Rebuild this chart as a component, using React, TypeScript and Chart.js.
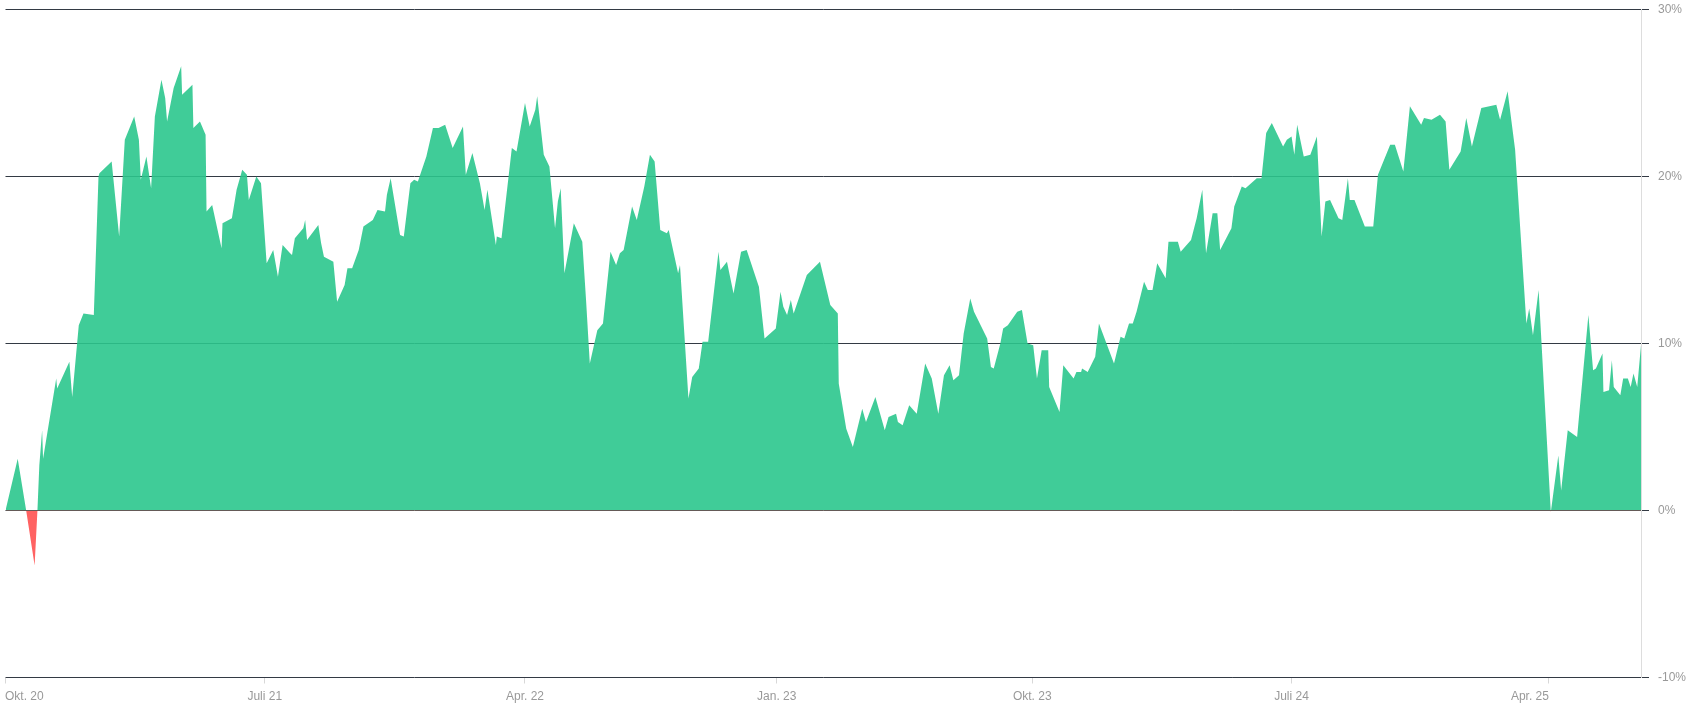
import React, { useEffect, useRef } from "react";
import { Chart, registerables } from "chart.js";

Chart.register(...registerables);

// Days since 1 Oct 2020 for each observation
const dayOffsets: number[] = [
  0, 13, 22, 31, 34, 36, 39, 40, 54, 55, 68, 71, 78, 83, 94, 99, 100, 113, 121, 127,
  137, 142, 144, 150, 155, 159, 166, 170, 172, 179, 187, 188, 199, 200, 207, 213, 214, 220, 230, 231,
  241, 246, 252, 257, 259, 267, 272, 278, 285, 290, 295, 303, 305, 308, 317, 319, 321, 333, 336, 339,
  349, 353, 361, 364, 369, 376, 381, 391, 396, 404, 406, 410, 420, 424, 431, 435, 439, 448, 455, 461,
  468, 476, 487, 490, 497, 505, 510, 513, 522, 523, 528, 539, 544, 553, 558, 564, 566, 573, 579, 585,
  588, 591, 595, 605, 614, 618, 622, 630, 636, 644, 650, 654, 658, 667, 672, 680, 686, 691, 697, 704,
  706, 716, 718, 727, 731, 738, 742, 748, 759, 761, 768, 775, 783, 789, 802, 808, 820, 825, 828, 832,
  836, 839, 853, 867, 878, 886, 887, 895, 902, 912, 916, 926, 933, 936, 940, 948, 950, 955, 962, 970,
  979, 986, 993, 999, 1005, 1009, 1015, 1020, 1027, 1031, 1045, 1049, 1052, 1059, 1062, 1067, 1077, 1082, 1088, 1094,
  1098, 1103, 1110, 1111, 1122, 1126, 1137, 1140, 1145, 1146, 1152, 1160, 1164, 1180, 1187, 1191, 1196, 1200, 1204, 1212,
  1216, 1221, 1226, 1235, 1238, 1248, 1251, 1262, 1268, 1274, 1278, 1285, 1290, 1293, 1305, 1308, 1316, 1320, 1332, 1337,
  1342, 1348, 1360, 1364, 1369, 1372, 1375, 1382, 1389, 1396, 1401, 1405, 1410, 1419, 1423, 1429, 1431, 1436, 1447, 1456,
  1461, 1474, 1479, 1488, 1495, 1507, 1510, 1518, 1527, 1533, 1537, 1549, 1555, 1561, 1571, 1587, 1591, 1599, 1607, 1619,
  1622, 1626, 1632, 1645, 1653, 1656, 1663, 1673, 1685, 1690, 1693, 1700, 1701, 1707, 1710, 1712, 1719, 1722, 1727, 1730,
  1733, 1737, 1741,
];

// Performance in percent
const returnPct: number[] = [
  0, 3.1, 0, -3.3, 0, 2.7, 4.8, 3.1, 7.9, 7.3, 8.9, 6.8, 11.1, 11.8, 11.7, 20.0, 20.2, 20.9, 16.4, 22.2,
  23.6, 22.2, 19.8, 21.2, 19.3, 23.6, 25.8, 24.7, 23.3, 25.3, 26.6, 24.9, 25.5, 22.9, 23.3, 22.5, 17.9, 18.3, 15.7, 17.2,
  17.5, 19.2, 20.4, 20.1, 18.6, 20.0, 19.6, 14.8, 15.6, 14.0, 15.9, 15.4, 15.3, 16.3, 16.9, 17.4, 16.2, 17.1, 16.0, 15.2,
  14.9, 12.5, 13.5, 14.5, 14.5, 15.6, 17.0, 17.4, 18.0, 17.9, 18.9, 19.9, 16.5, 16.4, 19.6, 19.8, 19.7, 21.2, 22.9, 22.9,
  23.1, 21.7, 23.0, 20.1, 21.4, 19.6, 18.0, 19.2, 15.9, 16.4, 16.3, 21.7, 21.5, 24.4, 23.0, 24.0, 24.8, 21.3, 20.6, 16.9,
  18.5, 19.3, 14.2, 17.2, 16.1, 12.6, 8.8, 10.8, 11.2, 15.5, 14.7, 15.4, 15.6, 18.2, 17.4, 19.4, 21.3, 20.9, 16.8, 16.6,
  16.8, 14.2, 14.7, 6.7, 8.0, 8.5, 10.1, 10.1, 15.5, 14.4, 14.9, 13.0, 15.5, 15.6, 13.4, 10.3, 10.9, 13.1, 12.2, 11.7,
  12.6, 11.8, 14.1, 14.9, 12.3, 11.8, 7.6, 4.9, 3.8, 6.1, 5.3, 6.8, 5.4, 4.8, 5.6, 5.8, 5.3, 5.1, 6.3, 5.8,
  8.8, 7.9, 5.8, 8.1, 8.7, 7.8, 8.1, 10.6, 12.7, 11.9, 10.3, 8.6, 8.5, 10.0, 10.9, 11.1, 11.9, 12.0, 10.0, 9.9,
  7.9, 9.6, 9.6, 7.4, 5.9, 8.7, 7.9, 8.3, 8.3, 8.5, 8.3, 9.2, 11.2, 8.8, 10.4, 10.3, 11.2, 11.2, 11.9, 13.7,
  13.2, 13.2, 14.8, 13.9, 16.1, 16.1, 15.5, 16.2, 17.5, 19.2, 15.4, 17.8, 17.8, 15.6, 16.9, 18.2, 19.4, 19.3, 19.9, 19.9,
  22.6, 23.2, 21.8, 22.2, 22.4, 21.3, 23.1, 21.2, 21.3, 22.4, 16.4, 18.5, 18.6, 17.5, 17.4, 19.9, 18.6, 18.6, 17.0, 17.0,
  20.1, 21.9, 21.9, 20.3, 24.2, 23.1, 23.5, 23.4, 23.7, 23.3, 20.4, 21.5, 23.5, 21.8, 24.1, 24.3, 23.4, 25.1, 21.6, 11.2,
  12.1, 10.5, 13.2, -0.1, 3.3, 1.2, 4.8, 4.4, 11.7, 8.4, 8.5, 9.4, 7.1, 7.2, 9.0, 7.4, 6.9, 7.9, 7.9, 7.4,
  8.2, 7.4, 9.9,
];

const tickDays: number[] = [0, 276, 553, 821, 1093, 1369, 1643];
const tickLabels: string[] = ["Okt. 20", "Juli 21", "Apr. 22", "Jan. 23", "Okt. 23", "Juli 24", "Apr. 25"];

const FONT = "'Liberation Sans', Arial, sans-serif";

export default function App() {
  const canvasRef = useRef<HTMLCanvasElement | null>(null);

  useEffect(() => {
    const canvas = canvasRef.current;
    if (!canvas) return;

    const xLabelPlugin = {
      id: "xLabels",
      afterDraw(chart: any) {
        const ctx = chart.ctx;
        const xs = chart.scales.x;
        ctx.save();
        ctx.font = `12px ${FONT}`;
        ctx.fillStyle = "#999999";
        ctx.textBaseline = "alphabetic";
        tickDays.forEach((d, i) => {
          const px = xs.getPixelForValue(d);
          ctx.textAlign = i === 0 ? "left" : i === tickDays.length - 1 ? "right" : "center";
          ctx.fillText(tickLabels[i], i === 0 ? px - 0.5 : px, 700);
        });
        ctx.restore();
      },
    };

    const chart = new Chart(canvas, {
      type: "line",
      data: {
        datasets: [
          {
            data: dayOffsets.map((d, i) => ({ x: d, y: returnPct[i] })),
            borderWidth: 0,
            borderColor: "rgba(0,0,0,0)",
            pointRadius: 0,
            tension: 0,
            fill: {
              target: "origin",
              above: "rgba(43,199,141,0.9)",
              below: "rgba(255,98,98,1)",
            },
          },
        ],
      },
      options: {
        responsive: false,
        animation: false,
        events: [],
        layout: { padding: { left: 5.5, top: 9.5, right: 0, bottom: 0 } },
        plugins: {
          legend: { display: false },
          tooltip: { enabled: false },
        },
        scales: {
          x: {
            type: "linear",
            min: dayOffsets[0],
            max: dayOffsets[dayOffsets.length - 1],
            afterBuildTicks: (scale: any) => {
              scale.ticks = tickDays.map((v) => ({ value: v }));
            },
            afterFit: (scale: any) => {
              scale.height = 34.5;
              scale.paddingLeft = 0;
              scale.paddingRight = 0;
            },
            ticks: { display: false },
            grid: {
              display: true,
              drawOnChartArea: false,
              drawTicks: true,
              tickLength: 6,
              color: "#d8d8d8",
            },
            border: { display: false },
          },
          y: {
            position: "right",
            min: -10,
            max: 30,
            afterFit: (scale: any) => {
              scale.width = 51;
              scale.paddingTop = 0;
              scale.paddingBottom = 0;
            },
            ticks: {
              stepSize: 10,
              padding: 9,
              color: "#999999",
              font: { size: 12, family: FONT },
              callback: (v: any) => `${v}%`,
            },
            grid: {
              color: "#333a44",
              lineWidth: 1,
              drawTicks: true,
              tickLength: 8,
            },
            border: { display: true, color: "#dddddd" },
          },
        },
      },
      plugins: [xLabelPlugin],
    } as any);

    return () => chart.destroy();
  }, []);

  return (
    <div style={{ position: "fixed", left: 0, top: 0, width: 1692, height: 712, background: "#fff" }}>
      <canvas ref={canvasRef} width={1692} height={712} style={{ display: "block" }} />
    </div>
  );
}
